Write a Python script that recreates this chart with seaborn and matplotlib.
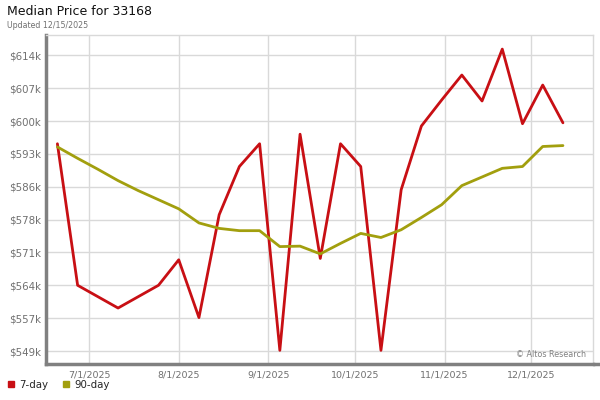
import matplotlib
matplotlib.use("Agg")
import matplotlib.pyplot as plt
import matplotlib.dates as mdates
from matplotlib.lines import Line2D
import seaborn as sns
import pandas as pd
import numpy as np

# weekly dates (Fridays)
datas = ["2025-06-20", "2025-06-27", "2025-07-04", "2025-07-11", "2025-07-18",
         "2025-07-25", "2025-08-01", "2025-08-08", "2025-08-15", "2025-08-22",
         "2025-08-29", "2025-09-05", "2025-09-12", "2025-09-19", "2025-09-26",
         "2025-10-03", "2025-10-10", "2025-10-17", "2025-10-24", "2025-10-31",
         "2025-11-07", "2025-11-14", "2025-11-21", "2025-11-28", "2025-12-05",
         "2025-12-12"]

# median price, thousands of dollars
preco_7d = [595.0, 563.9, 561.4, 558.9, 561.4, 563.9, 569.5, 556.8, 579.4, 590.0,
            595.0, 549.6, 597.1, 569.8, 595.0, 590.0, 549.6, 584.9, 598.9, 604.6,
            610.1, 604.4, 615.8, 599.4, 607.9, 599.6]
preco_90d = [594.3, 591.8, 589.4, 586.9, 584.7, 582.7, 580.7, 577.6, 576.4, 575.9,
             575.9, 572.4, 572.5, 570.8, 573.1, 575.3, 574.4, 576.1, 578.8, 581.6,
             585.8, 587.7, 589.6, 590.0, 594.4, 594.6]

series_nomes = ["7-day", "90-day"]
cores = {"7-day": "#c80f14", "90-day": "#a29f0e"}

y_ticks = np.linspace(549.45, 614.43, 10) * 1000
x_ticks = ["2025-07-01", "2025-08-01", "2025-09-01", "2025-10-01", "2025-11-01", "2025-12-01"]

df = pd.DataFrame({
    "data": pd.to_datetime(datas * 2),
    "preco": np.array(preco_7d + preco_90d) * 1000,
    "serie": [series_nomes[0]] * len(datas) + [series_nomes[1]] * len(datas),
})

sns.set_style("white")
plt.rcParams["font.family"] = ["DejaVu Sans"]

fig = plt.figure(figsize=(6, 4), dpi=100)
ax = fig.add_axes([0.076, 0.09, 0.912, 0.8225])

sns.lineplot(data=df, x="data", y="preco", hue="serie", palette=cores,
             linewidth=2.0, ax=ax, legend=False)

ax.set_xlim(pd.Timestamp("2025-06-15 22:00"), pd.Timestamp("2025-12-22 08:00"))
ax.set_ylim(546.6e3, 618.9e3)

ax.set_yticks(y_ticks)
ax.set_yticklabels([f"${round(v / 1000)}k" for v in y_ticks])
ax.set_xticks(pd.to_datetime(x_ticks))
ax.xaxis.set_major_formatter(mdates.DateFormatter("%-m/%-d/%Y"))

ax.grid(True, color="#d9d9d9", linewidth=1.0)
ax.set_axisbelow(True)
ax.tick_params(axis="both", length=0, labelcolor="#707070")
ax.tick_params(axis="x", pad=5, labelsize=6.8)
ax.tick_params(axis="y", pad=3.5, labelsize=7.4)
ax.set_xlabel("")
ax.set_ylabel("")

for lado in ["top", "right"]:
    ax.spines[lado].set_color("#d9d9d9")
    ax.spines[lado].set_linewidth(1.0)
for lado in ["left", "bottom"]:
    ax.spines[lado].set_color("#808080")
    ax.spines[lado].set_linewidth(2.5)

# bottom shadow bar going past the plot edge
fig.add_artist(Line2D([0.988, 1.0], [0.09, 0.09], transform=fig.transFigure,
                      color="#808080", linewidth=2.5))

ax.text(0.988, 0.015, "\u00a9 Altos Research", transform=ax.transAxes,
        ha="right", va="bottom", fontsize=5.8, color="#808080")

fig.text(0.011, 0.988, "Median Price for 33168", ha="left", va="top",
         fontsize=9, color="#111111")
fig.text(0.012, 0.947, "Updated 12/15/2025", ha="left", va="top",
         fontsize=5.7, color="#707070")

handles = [Line2D([], [], marker="s", linestyle="", markersize=4.5,
                  color=cores[s]) for s in series_nomes]
fig.legend(handles, series_nomes, loc="lower left", bbox_to_anchor=(0.0, 0.01),
           ncol=2, frameon=False, fontsize=7.4, handletextpad=0.3,
           columnspacing=1.2, handlelength=1.0, borderaxespad=0.2)

fig.savefig("out.png", dpi=100)
